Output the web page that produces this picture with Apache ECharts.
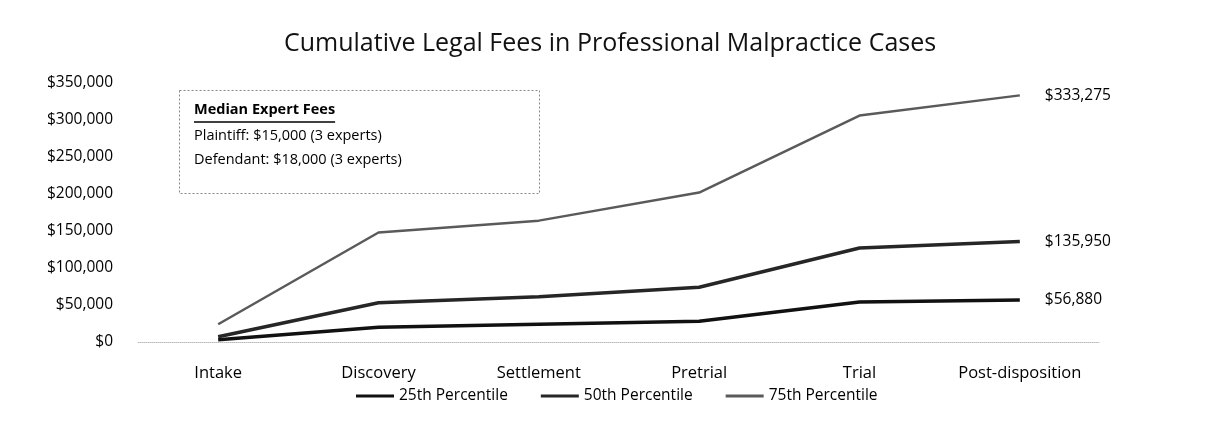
<!DOCTYPE html>
<html>
<head>
<meta charset="utf-8">
<script src="https://cdn.jsdelivr.net/npm/echarts@6/dist/echarts.min.js"></script>
<style>
html,body{margin:0;padding:0;background:#fff;}
#c{width:1212px;height:428px;}
</style>
</head>
<body>
<div id="c"></div>
<script>
var categories = ['Intake', 'Discovery', 'Settlement', 'Pretrial', 'Trial', 'Post-disposition'];
var p25 = [3000, 20000, 24000, 28000, 54000, 56880];
var p50 = [7000, 53000, 61000, 74000, 127000, 135950];
var p75 = [24000, 148000, 164000, 202000, 306000, 333275];
var seriesNames = ['25th Percentile', '50th Percentile', '75th Percentile'];
var yTicks = { min: 0, max: 350000, interval: 50000 };
var titleText = 'Cumulative Legal Fees in Professional Malpractice Cases';
var noteLines = ['Median Expert Fees', 'Plaintiff: $15,000 (3 experts)', 'Defendant: $18,000 (3 experts)'];

function money(v){ return '$' + Math.round(v).toString().replace(/\B(?=(\d{3})+(?!\d))/g, ','); }

var FONT = 'Open Sans';
var chart = echarts.init(document.getElementById('c'), null, {renderer:'canvas'});

function mk(name, data, color, width){
  return {
    name: name, type: 'line', data: data, symbol: 'none', smooth: false,
    lineStyle: { color: color, width: width },
    itemStyle: { color: color },
    endLabel: { show: true, distance: 25, formatter: function(p){ return money(p.value); },
      color: '#000', fontFamily: FONT, fontSize: 15.5 },
    animation: false
  };
}

chart.setOption({
  backgroundColor: '#fff',
  animation: false,
  title: { text: titleText, left: 284, top: 31, padding: 0,
    textStyle: { fontFamily: FONT, fontWeight: 'normal', fontSize: 25, color: '#111' } },
  legend: { bottom: 19, left: 351, itemWidth: 38, itemHeight: 3, itemGap: 33,
    icon: 'rect', padding: 5,
    textStyle: { fontFamily: FONT, fontSize: 15.5, color: '#000' },
    data: seriesNames },
  grid: { left: 138, right: 112, top: 83, bottom: 86 },
  xAxis: { type: 'category', data: categories, boundaryGap: true,
    axisLine: { show: true, lineStyle: { color: '#bbb', type: 'dotted', width: 1 } },
    axisTick: { show: false },
    axisLabel: { interval: 0, fontFamily: FONT, fontSize: 16.5, color: '#000', margin: 23 } },
  yAxis: { type: 'value', min: yTicks.min, max: yTicks.max, interval: yTicks.interval,
    axisLine: { show: false }, axisTick: { show: false },
    splitLine: { show: false },
    axisLabel: { fontFamily: FONT, fontSize: 15.5, color: '#000', margin: 25, formatter: money } },
  graphic: [
    { type: 'rect', left: 177, top: 88, shape: { width: 360, height: 103 },
      style: { fill: 'none', stroke: '#888', lineWidth: 1, lineDash: [2, 2] } },
    { type: 'text', left: 194, top: 102, style: { text: noteLines[0], fontFamily: FONT, fontSize: 14.5, fontWeight: 'bold', fill: '#000' } },
    { type: 'line', shape: { x1: 194, y1: 122, x2: 194, y2: 122 }, id: 'ul',
      style: { stroke: '#000', lineWidth: 1.5 } },
    { type: 'text', left: 194, top: 128, style: { text: noteLines[1], fontFamily: FONT, fontSize: 14.5, fill: '#000' } },
    { type: 'text', left: 194, top: 152, style: { text: noteLines[2], fontFamily: FONT, fontSize: 14.5, fill: '#000' } }
  ],
  series: [
    mk(seriesNames[0], p25, '#111111', 3.5),
    mk(seriesNames[1], p50, '#262626', 3.5),
    mk(seriesNames[2], p75, '#5a5a5a', 2.5)
  ]
});
var ctx = document.createElement('canvas').getContext('2d');
ctx.font = 'bold 14.5px "' + FONT + '"';
var tw = ctx.measureText(noteLines[0]).width;
chart.setOption({ graphic: [{ id: 'ul', shape: { x1: 194, y1: 122, x2: 194 + tw, y2: 122 } }] });
</script>
</body>
</html>
